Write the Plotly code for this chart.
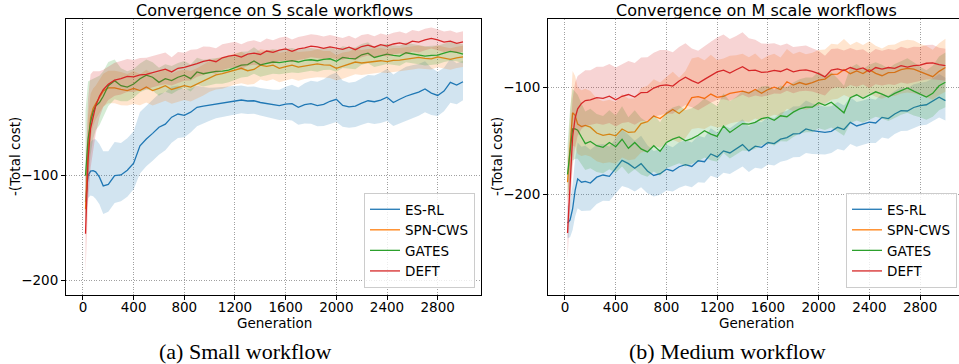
import plotly.graph_objects as go

# ---------------- data (Total cost; axis shows -(Total cost) on a log scale) ----------------
GEN = [20, 40, 60, 80, 100, 130, 160, 200,
       250, 300, 350, 400, 450, 500, 550, 600,
       650, 700, 750, 800, 850, 900, 950, 1000,
       1050, 1100, 1150, 1200, 1250, 1300, 1350, 1400,
       1450, 1500, 1550, 1600, 1650, 1700, 1750, 1800,
       1850, 1900, 1950, 2000, 2050, 2100, 2150, 2200,
       2250, 2300, 2350, 2400, 2450, 2500, 2550, 2600,
       2650, 2700, 2750, 2800, 2850, 2900, 2950, 3000]

METHODS = ["ES-RL", "SPN-CWS", "GATES", "DEFT"]
COLORS = ["#1f77b4", "#ff7f0e", "#2ca02c", "#d62728"]
FILLS = ["rgba(31,119,180,0.2)", "rgba(255,127,14,0.2)", "rgba(44,160,44,0.2)", "rgba(214,39,40,0.2)"]

# ----- Small workflows -----
S_ESRL = [119, 100, 97, 96.7, 97.5, 101, 107, 106,
          100, 99.5, 96.5, 92, 82, 78.4, 75.5, 72.5,
          71.0, 67.8, 66.4, 67.0, 65.6, 63.5, 63.0, 62.6,
          62.0, 61.5, 61.2, 60.8, 60.5, 60.9, 60.8, 61.5,
          62.0, 62.5, 62.8, 62.2, 62.0, 63.5, 62.4, 62.0,
          62.8, 62.3, 61.0, 60.2, 62.7, 63.3, 63.0, 61.8,
          60.8, 61.2, 60.5, 59.4, 61.5, 60.2, 59.0, 58.2,
          57.4, 56.2, 57.8, 58.7, 57.0, 53.8, 54.8, 53.6]
S_ESRL_STD = [18, 16, 17, 18, 19, 20, 22, 21,
              20, 19, 18.5, 17.5, 16.5, 15.5, 15, 14.5,
              13.5, 12.5, 11.5, 10.5, 9.5, 8.5, 7.5, 6.8,
              6.3, 6.0, 6.0, 5.8, 5.6, 5.5, 5.5, 5.6,
              5.8, 6.0, 6.3, 6.8, 7.3, 7.8, 8.3, 8.8,
              9.2, 9.6, 9.8, 9.8, 9.6, 9.4, 9.4, 9.5,
              9.6, 9.8, 10.0, 10.2, 10.4, 10.5, 10.5, 10.2,
              9.8, 9.4, 9.0, 8.6, 8.2, 7.8, 7.4, 7.0]
S_SPN = [125, 85, 68, 64, 62, 59.5, 57, 55.8,
         55.8, 56.4, 56.8, 56.0, 56.8, 55.5, 56.8, 56.0,
         55.0, 56.4, 55.6, 55.0, 55.5, 54.4, 53.2, 52.0,
         51.2, 50.8, 50.2, 49.6, 49.0, 49.8, 49.4, 48.0,
         48.4, 48.0, 49.0, 48.5, 48.0, 48.6, 48.2, 48.0,
         47.6, 47.9, 48.0, 49.0, 48.3, 47.8, 47.0, 47.3,
         47.0, 46.8, 46.6, 46.9, 46.5, 46.4, 46.2, 45.9,
         45.6, 45.9, 46.0, 45.4, 45.8, 46.2, 45.7, 45.4]
S_SPN_STD = [25, 18, 10, 8, 7, 6.5, 6.2, 6.0,
             6.0, 6.2, 5.9, 6.1, 5.8, 6.0, 5.9, 5.7,
             5.8, 5.6, 5.7, 5.5, 5.6, 5.4, 5.5, 5.3,
             5.2, 5.3, 5.1, 5.0, 5.1, 4.9, 5.0, 4.8,
             4.9, 4.7, 4.8, 4.6, 4.5, 4.6, 4.4, 4.3,
             4.4, 4.2, 4.3, 4.1, 4.2, 4.0, 4.0, 3.9,
             3.9, 3.8, 3.8, 3.7, 3.7, 3.6, 3.6, 3.5,
             3.5, 3.4, 3.4, 3.3, 3.3, 3.3, 3.2, 3.2]
S_GATES = [100, 78.5, 70, 65.5, 63, 61.5, 59, 55,
           53.2, 55.0, 55.5, 54.4, 52.5, 51.3, 52.0, 53.8,
           52.5, 53.2, 52.0, 51.3, 52.5, 50.2, 50.8, 50.4,
           50.0, 49.9, 49.6, 48.8, 48.0, 47.8, 46.7, 47.9,
           47.4, 47.0, 47.2, 46.9, 46.6, 47.0, 46.5, 46.3,
           46.6, 46.2, 46.0, 46.8, 45.6, 45.9, 46.0, 44.8,
           44.3, 45.6, 45.0, 44.6, 45.0, 45.2, 44.2, 44.6,
           44.9, 45.2, 45.0, 44.9, 44.3, 43.8, 44.1, 44.6]
S_GATES_STD = [35, 25, 17, 13, 11, 10, 9, 8,
               7.0, 6.0, 5.5, 5.2, 5.0, 5.1, 4.9, 5.0,
               4.8, 4.9, 4.7, 4.6, 4.7, 4.5, 4.5, 4.4,
               4.3, 4.4, 4.2, 4.2, 4.1, 4.0, 4.1, 3.9,
               3.9, 3.8, 3.8, 3.7, 3.8, 3.6, 3.6, 3.5,
               3.5, 3.4, 3.5, 3.3, 3.3, 3.2, 3.3, 3.1,
               3.1, 3.0, 3.1, 3.0, 2.9, 3.0, 2.9, 2.9,
               2.8, 2.9, 2.8, 2.8, 2.7, 2.8, 2.7, 2.8]
S_DEFT = [147, 90, 73, 67, 63, 59, 56.5, 54.5,
          53.0, 52.5, 51.7, 51.9, 51.2, 51.0, 50.4, 49.8,
          49.3, 50.2, 49.0, 48.7, 48.2, 47.5, 46.8, 46.4,
          46.9, 45.7, 45.2, 44.9, 45.5, 44.6, 44.3, 44.7,
          43.7, 44.1, 43.4, 43.1, 43.8, 43.1, 42.8, 42.3,
          42.5, 42.9, 42.5, 42.9, 43.2, 42.6, 43.3, 42.4,
          42.0, 42.6, 41.9, 42.3, 41.7, 41.4, 41.8, 40.9,
          41.2, 40.6, 40.2, 40.6, 41.2, 40.9, 41.5, 41.1]
S_DEFT_STD = [45, 30, 22, 17, 13, 9, 7, 6,
              5.8, 5.8, 5.6, 5.5, 5.4, 5.3, 5.2, 5.1,
              5.2, 4.7, 5.0, 4.5, 4.9, 4.3, 4.4, 3.9,
              4.0, 3.9, 3.8, 3.8, 3.7, 3.6, 3.6, 3.5,
              3.5, 3.4, 3.4, 3.4, 3.3, 3.3, 3.3, 3.2,
              3.2, 3.2, 3.2, 3.2, 3.1, 3.1, 3.1, 3.1,
              3.0, 3.0, 3.0, 3.0, 3.0, 3.0, 2.9, 2.9,
              2.9, 2.9, 2.8, 2.8, 2.8, 2.8, 2.8, 2.8]

# ----- Medium workflows -----
M_ESRL = [241, 236, 220, 195, 181, 185, 184, 186,
          179, 176.5, 178, 169, 160.5, 164, 169, 164,
          172, 177, 175, 170, 172, 167.3, 165, 167,
          161, 162, 154, 157, 151, 153, 149, 145,
          151, 146.5, 147.5, 143, 144, 140, 138.5, 135.3,
          135, 131, 132.5, 133.5, 134, 133, 129.6, 131.5,
          125.5, 128.5, 127, 125.4, 126, 121.5, 122.5, 118.9,
          116.3, 116.6, 114, 112.6, 112, 109.5, 106.7, 109]
M_ESRL_STD = [25, 28, 32, 36, 38, 38, 38, 36,
              34, 32, 31, 30, 29, 28, 27.5, 27,
              26.5, 26, 25.5, 25, 24.5, 24.5, 24, 24,
              24, 23.5, 23.5, 23, 23, 22.5, 22.5, 22,
              22, 22, 22, 22, 22, 22, 22, 22,
              22, 22, 21.5, 21, 20.5, 20, 19.5, 19,
              19, 18.5, 18, 18, 17.5, 17, 17, 16.5,
              16.5, 16, 16, 15.5, 15.5, 15, 15, 15]
M_SPN = [185, 150, 118, 120, 127, 129, 128, 129.5,
         134.5, 136.5, 135.5, 137, 131, 134, 133.5, 126.5,
         125, 120.5, 122.5, 118.5, 115.5, 118.5, 114.5, 107,
         106.2, 107.5, 104.5, 106.8, 106, 104, 103.3, 102.5,
         103.8, 101.4, 104, 101.5, 100, 101.5, 96.5, 98.6,
         97, 98.2, 97, 95.5, 94.8, 92, 91.8, 89.2,
         91.6, 90, 91.5, 89.2, 91.4, 92.8, 91.0, 90.8,
         89.2, 88.5, 88.9, 90.4, 91.6, 93.4, 90.2, 88]
M_SPN_STD = [25, 30, 28, 27, 27, 27, 27, 27,
             27, 27, 27, 27, 26.5, 26.5, 26, 26,
             26, 25.5, 25.5, 25, 25, 24.5, 24.5, 24,
             24, 23.5, 23.5, 23, 23, 22.5, 22, 22,
             21.5, 21, 20.5, 20, 19.5, 19, 18.5, 18,
             17.5, 17.5, 17, 17, 16.5, 16.5, 16, 16,
             15.5, 15.5, 15.5, 15, 15, 15, 15, 15,
             15, 15, 15, 15, 15, 15, 15, 15]
M_GATES = [176, 150, 131, 131, 132, 138, 144, 142,
           146, 147.5, 143, 147, 140, 148.5, 143, 149,
           152, 146, 151.5, 143, 140, 138, 141.5, 139.5,
           136.5, 132.5, 135.5, 137.5, 128.5, 134, 130.5, 126.5,
           127, 125.5, 122.5, 121.5, 123.8, 120.3, 121, 117.5,
           115, 113.8, 113.8, 110.5, 112.4, 110.2, 114, 118,
           107, 105, 107.4, 105, 103, 104.5, 106.5, 104,
           102, 100.4, 102.5, 104.5, 106.5, 104, 99, 96.8]
M_GATES_STD = [30, 35, 30, 28, 27, 27, 27, 27,
               27, 27, 27, 27, 27, 27, 27, 27,
               26.5, 26.5, 26, 26, 26, 25.5, 25.5, 25,
               25, 25, 25, 24.5, 24.5, 24.5, 24, 24,
               24, 23.5, 23, 22.5, 22, 21.5, 21, 20.5,
               20, 20, 20, 20, 19.5, 19.5, 19.5, 19,
               19, 19, 18.5, 18.5, 18, 18, 18, 18,
               17.5, 17.5, 17.5, 17, 17, 17, 17, 17]
M_DEFT = [257, 180, 138, 122, 115, 111, 109, 108.5,
          107, 107.5, 106, 108.5, 106, 104.8, 106.5, 103.5,
          103.3, 100.5, 99, 98.5, 99.2, 96, 93.7, 95.8,
          97.5, 95, 92.5, 90.5, 89.5, 91.2, 89.3, 87.5,
          89.8, 89.5, 90.8, 90.5, 89.7, 90.3, 88.8, 90.5,
          89.6, 89.3, 90.2, 91.5, 93.5, 89.5, 88.8, 89.8,
          88.0, 89.2, 88.2, 90.4, 88.0, 88.9, 88.0, 88.5,
          86.9, 87.8, 86.9, 86.6, 85.6, 85.4, 86.4, 86.9]
M_DEFT_STD = [50, 40, 30, 25, 22, 20, 19.5, 19,
              19.5, 20, 20, 20.5, 20, 20.5, 21, 21,
              21, 20.5, 20.5, 20, 19.5, 19, 18.5, 18,
              18.5, 18.5, 18, 18, 18.5, 18, 17.5, 17.5,
              17, 16, 15.5, 15, 14.5, 14, 13.5, 13.5,
              13, 13, 12.5, 12.5, 12, 11.5, 11, 11,
              10.5, 10.5, 10, 10, 10, 10, 10, 10,
              10, 10, 10, 9.5, 9.5, 9.5, 9, 9]

XTICKS = [0, 400, 800, 1200, 1600, 2000, 2400, 2800]
YTICKS = [100, 200]
YTICKTEXT = ["\u2212100", "\u2212200"]

PANELS = [
    dict(means=[S_ESRL, S_SPN, S_GATES, S_DEFT],
         stds=[S_ESRL_STD, S_SPN_STD, S_GATES_STD, S_DEFT_STD],
         xa="x", ya="y", legend="legend"),
    dict(means=[M_ESRL, M_SPN, M_GATES, M_DEFT],
         stds=[M_ESRL_STD, M_SPN_STD, M_GATES_STD, M_DEFT_STD],
         xa="x2", ya="y2", legend="legend2"),
]

for p in PANELS:
    for arr in p["means"] + p["stds"]:
        assert len(arr) == len(GEN)

FONT = "DejaVu Sans"
W, H = 959, 364

fig = go.Figure()
for p in PANELS:
    for name, col, fill, mean, std in zip(METHODS, COLORS, FILLS, p["means"], p["stds"]):
        hi = [m - s for m, s in zip(mean, std)]
        lo = [m + s for m, s in zip(mean, std)]
        fig.add_trace(go.Scatter(
            x=GEN + GEN[::-1], y=hi + lo[::-1], fill="toself", fillcolor=fill,
            line=dict(width=0), mode="lines", hoverinfo="skip", showlegend=False,
            xaxis=p["xa"], yaxis=p["ya"]))
        fig.add_trace(go.Scatter(
            x=GEN, y=mean, mode="lines", name=name, line=dict(color=col, width=1.3),
            xaxis=p["xa"], yaxis=p["ya"], legend=p["legend"]))

def px_x(v):
    return v / W

def px_y(v):
    return 1 - v / H

axis_common = dict(showline=True, linecolor="black", linewidth=1, mirror=True,
                   ticks="outside", ticklen=4, tickwidth=1, tickcolor="black",
                   showgrid=True, gridcolor="#a0a0a0", griddash="1px,1.5px", gridwidth=1,
                   zeroline=False, tickfont=dict(family=FONT, size=13.5, color="black"))

fig.update_layout(
    width=W, height=H, margin=dict(l=0, r=0, t=0, b=0),
    paper_bgcolor="white", plot_bgcolor="white",
    font=dict(family=FONT, color="black"),
    xaxis=dict(domain=[px_x(66), px_x(481)], range=[-134, 3142], tickvals=XTICKS,
               anchor="y", ticklabelstandoff=-4, **axis_common),
    yaxis=dict(domain=[px_y(295), px_y(19)], type="log", range=[2.3443, 1.548],
               tickvals=YTICKS, ticktext=YTICKTEXT, anchor="x", **axis_common),
    xaxis2=dict(domain=[px_x(548), 1.0], range=[-134, 3107], tickvals=XTICKS,
                anchor="y2", ticklabelstandoff=-4, **axis_common),
    yaxis2=dict(domain=[px_y(295), px_y(19)], type="log", range=[2.5843, 1.808],
                tickvals=YTICKS, ticktext=YTICKTEXT, anchor="x2", **axis_common),
    legend=dict(x=px_x(475), y=px_y(288), xanchor="right", yanchor="bottom",
                bgcolor="rgba(255,255,255,0.8)", bordercolor="#cccccc", borderwidth=1,
                font=dict(family=FONT, size=13.5, color="black"), tracegroupgap=0),
    legend2=dict(x=px_x(957), y=px_y(288), xanchor="right", yanchor="bottom",
                 bgcolor="rgba(255,255,255,0.8)", bordercolor="#cccccc", borderwidth=1,
                 font=dict(family=FONT, size=13.5, color="black"), tracegroupgap=0),
)

ann = []
# titles
ann.append(dict(text="Convergence on S scale workflows", x=px_x(274), y=px_y(10),
                font=dict(family=FONT, size=16)))
ann.append(dict(text="Convergence on M scale workflows", x=px_x(756), y=px_y(10),
                font=dict(family=FONT, size=16)))
# axis titles
ann.append(dict(text="Generation", x=px_x(274), y=px_y(323), font=dict(family=FONT, size=13.5)))
ann.append(dict(text="Generation", x=px_x(756), y=px_y(323), font=dict(family=FONT, size=13.5)))
ann.append(dict(text="-(Total cost)", x=px_x(15), y=px_y(157), textangle=-90,
                font=dict(family=FONT, size=13.5)))
ann.append(dict(text="-(Total cost)", x=px_x(497), y=px_y(157), textangle=-90,
                font=dict(family=FONT, size=13.5)))
# captions
ann.append(dict(text="(a) Small workflow", x=px_x(245), y=px_y(351),
                font=dict(family="Liberation Serif", size=22)))
ann.append(dict(text="(b) Medium workflow", x=px_x(727), y=px_y(351),
                font=dict(family="Liberation Serif", size=22)))
for a in ann:
    a.update(xref="paper", yref="paper", showarrow=False, xanchor="center", yanchor="middle")
    a["font"]["color"] = "black"
fig.update_layout(annotations=ann)

fig.write_html("out.html", config={"displayModeBar": False},
               post_script="document.body.style.margin='0';document.body.style.overflow='hidden';")
